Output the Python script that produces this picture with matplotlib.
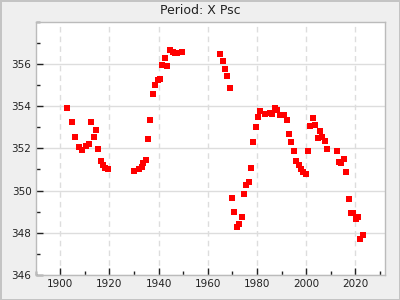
import matplotlib
matplotlib.use("Agg")
import matplotlib.pyplot as plt
from matplotlib.ticker import MultipleLocator

title = "Period: X Psc"

years = [
    1902.9, 1904.9, 1906.1, 1907.8, 1909.0, 1910.6, 1911.8, 1912.6, 1913.8, 1914.7,
    1915.5, 1916.7, 1917.5, 1918.3, 1919.5,
    1930.1, 1932.1, 1933.1, 1933.7, 1934.9, 1935.8, 1936.6, 1937.8, 1938.6, 1939.8,
    1940.6, 1941.4, 1942.7, 1943.5, 1944.7, 1945.7, 1946.5, 1947.5, 1949.6,
    1965.0, 1966.2, 1967.0, 1967.8, 1969.0, 1969.8, 1970.7, 1971.9, 1972.7, 1973.9,
    1974.7, 1975.5, 1976.7, 1977.6, 1978.4, 1979.6, 1980.4, 1981.2, 1983.2, 1985.3,
    1986.1, 1987.3, 1988.1, 1989.3, 1990.1, 1991.0, 1992.2, 1993.0, 1993.8, 1995.0,
    1995.8, 1997.0, 1997.9, 1998.7, 1999.9, 2000.7, 2001.5, 2002.7, 2003.5, 2004.7,
    2005.6, 2006.4, 2007.6, 2008.4, 2012.5, 2013.3, 2014.1, 2015.3, 2016.1, 2017.3,
    2018.1, 2019.0, 2020.2, 2021.0, 2021.8, 2023.0,
]
periods = [
    353.91, 353.27, 352.54, 352.07, 351.94, 352.10, 352.21, 353.27, 352.54, 352.89,
    351.98, 351.41, 351.19, 351.06, 351.00,
    350.94, 351.04, 351.14, 351.31, 351.46, 352.45, 353.35, 354.57, 355.00, 355.23,
    355.30, 355.96, 356.29, 355.91, 356.65, 356.57, 356.55, 356.51, 356.57,
    356.46, 356.13, 355.75, 355.42, 354.86, 349.66, 349.00, 348.29, 348.43, 348.76,
    349.85, 350.27, 350.42, 351.08, 352.31, 353.01, 353.49, 353.77, 353.63, 353.68,
    353.63, 353.90, 353.82, 353.58, 353.58, 353.58, 353.35, 352.68, 352.31, 351.88,
    351.41, 351.22, 351.03, 350.89, 350.79, 351.88, 353.06, 353.44, 353.11, 352.50,
    352.83, 352.54, 352.35, 351.98, 351.88, 351.36, 351.31, 351.50, 350.89, 349.61,
    348.95, 348.95, 348.67, 348.76, 347.72, 347.87,
]

x_ticks = [1900, 1920, 1940, 1960, 1980, 2000, 2020]
y_ticks = [346, 348, 350, 352, 354, 356]

fig = plt.figure(figsize=(4, 3), dpi=100)
fig.patch.set_facecolor("#efefef")
fig.patch.set_edgecolor("#c4c4c4")
fig.patch.set_linewidth(2)

ax = fig.add_axes([0.089, 0.084, 0.8735, 0.8427])
ax.set_facecolor("white")
ax.scatter(years, periods, marker="s", s=22, color="#ff0000", linewidths=0, zorder=3)

ax.set_xlim(1890, 2032)
ax.set_ylim(346, 358)
ax.set_xticks(x_ticks)
ax.set_yticks(y_ticks)
ax.xaxis.set_minor_locator(MultipleLocator(10))
ax.yaxis.set_minor_locator(MultipleLocator(1))

ax.grid(True, axis="y", which="major", color="#dddddd", linestyle="-", linewidth=1)
ax.grid(True, axis="x", which="major", color="#dddddd", linestyle=(0, (4, 3)), linewidth=1)
ax.set_axisbelow(True)

ax.tick_params(axis="both", which="major", direction="in", length=5, width=1,
               color="#222222", labelsize=7.5, labelcolor="#222222", pad=3)
ax.tick_params(axis="both", which="minor", direction="in", length=3, width=1, color="#222222")
ax.tick_params(top=False, right=False, which="both")

for s in ax.spines.values():
    s.set_color("#bbbbbb")
    s.set_linewidth(1)

fig.text(0.5, 0.965, title, ha="center", va="center", fontsize=9, color="#222222")

fig.savefig("out.png", dpi=100, facecolor=fig.get_facecolor(), edgecolor=fig.get_edgecolor())
